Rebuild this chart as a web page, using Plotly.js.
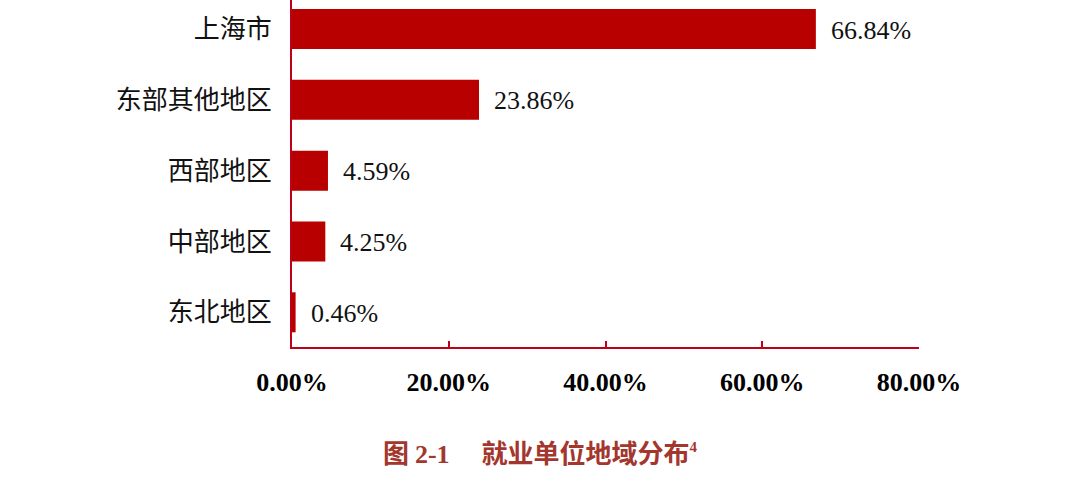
<!DOCTYPE html>
<html>
<head>
<meta charset="utf-8">
<script src="https://cdn.plot.ly/plotly-3.0.1.min.js"></script>
<style>
  html, body { margin: 0; padding: 0; background: #fff; }
  #chart { width: 1080px; height: 501px; }
</style>
</head>
<body>
<div id="chart"></div>
<script>
// regions from bottom to top, as drawn
const regions = ['东北地区', '中部地区', '西部地区', '东部其他地区', '上海市'];
const shares = [0.46, 4.25, 4.59, 23.86, 66.84];
const xTicks = [0, 20, 40, 60, 80];
const figNo = '图 <span style="font-family:Liberation Serif">2-1</span>';
const figTitle = '就业单位地域分布';
const footnote = '4';

const red = '#b80000';
const axisRed = '#c00018';

const bars = {
    type: 'bar',
    orientation: 'h',
    y: regions,
    x: shares,
    marker: { color: red },
    hoverinfo: 'skip'
};

// value labels sit a little to the right of each bar
const valueLabels = shares.map((v, i) => ({
    x: v,
    y: regions[i],
    xref: 'x',
    yref: 'y',
    text: v.toFixed(2) + '%',
    showarrow: false,
    xanchor: 'left',
    yanchor: 'middle',
    xshift: 13,
    yshift: -1,
    font: { family: 'Liberation Serif', size: 26, color: '#111' }
}));

const layout = {
    width: 1080,
    height: 501,
    margin: { l: 292, r: 161, t: 0, b: 154 },
    paper_bgcolor: '#fff',
    plot_bgcolor: '#fff',
    bargap: 0.435,
    showlegend: false,
    xaxis: {
        range: [0, 80],
        tickvals: xTicks,
        ticktext: xTicks.map((t) => t.toFixed(2) + '%'),
        showgrid: false,
        zeroline: false,
        showline: true,
        linecolor: axisRed,
        linewidth: 2,
        ticks: 'inside',
        ticklen: 6,
        tickwidth: 2,
        tickcolor: axisRed,
        ticklabelstandoff: 11,
        tickfont: { family: 'Liberation Serif', size: 26, color: '#000', weight: 'bold' },
        fixedrange: true
    },
    yaxis: {
        type: 'category',
        categoryorder: 'array',
        categoryarray: regions,
        range: [-0.49, 4.41],
        showgrid: false,
        zeroline: false,
        showline: true,
        linecolor: axisRed,
        linewidth: 2,
        ticks: '',
        ticklabelstandoff: 13,
        tickfont: { family: 'Noto Sans CJK SC', size: 26, color: '#111' },
        fixedrange: true
    },
    annotations: valueLabels.concat([{
        x: (540 - 292) / 627,
        y: -0.30,
        xref: 'paper',
        yref: 'paper',
        xanchor: 'center',
        yanchor: 'middle',
        text: figNo + '\u2003 ' + figTitle +
            '<sup><span style="font-family:Liberation Serif;font-size:15px">' + footnote + '</span></sup>',
        showarrow: false,
        font: { family: 'Noto Sans CJK SC', size: 26, color: '#a3362d', weight: 'bold' }
    }])
};

Plotly.newPlot('chart', [bars], layout, { displayModeBar: false, staticPlot: true });
</script>
</body>
</html>
